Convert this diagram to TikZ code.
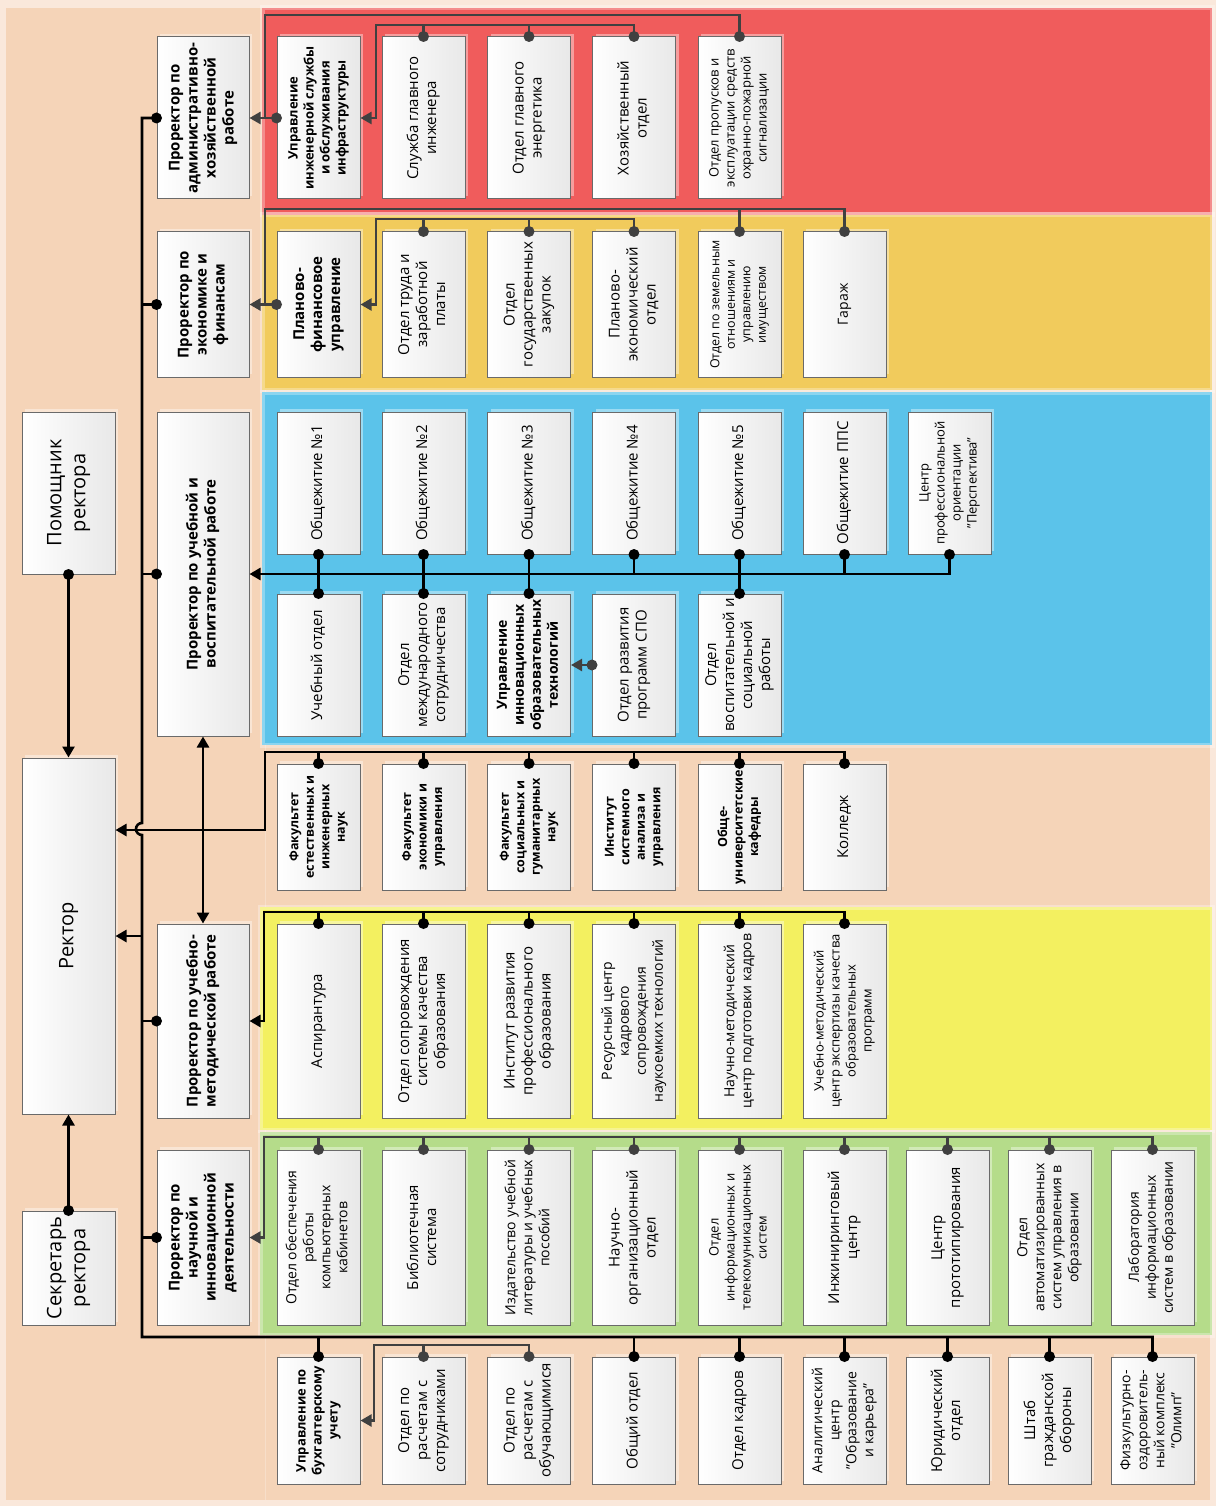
\documentclass[tikz,border=0pt]{standalone}
\usepackage{graphicx}
\usepackage{fontspec}
\setmainfont{Open Sans}
\usetikzlibrary{arrows.meta,shadows}
\definecolor{pagebg}{HTML}{FAE8DB}
\definecolor{peach}{HTML}{F5D4B8}
\definecolor{bred}{HTML}{F05C5C}
\definecolor{borange}{HTML}{F1CB5C}
\definecolor{bblue}{HTML}{5BC3EA}
\definecolor{byellow}{HTML}{F3F060}
\definecolor{bgreen}{HTML}{B5DC8A}
\definecolor{boxline}{HTML}{6A6A6A}
\definecolor{lngray}{HTML}{404040}
\newcommand\rtxt[2]{\rotatebox{90}{#1\begin{tabular}{@{}c@{}}#2\end{tabular}}}
\newcommand\tA{\fontsize{15}{18}\selectfont}
\newcommand\tB{\fontsize{14}{17}\selectfont}
\newcommand\tC{\fontsize{13}{16}\selectfont}
\newcommand\tD{\fontsize{12.5}{15.5}\selectfont}
\newcommand\tL{\fontsize{20}{24}\selectfont}
\begin{document}
\begin{tikzpicture}[x=1pt,y={(0,-1pt)},
  box/.style={draw=boxline,line width=1pt,left color=white,right color=black!9,inner sep=0pt,minimum width=83pt,
    general shadow={fill=white,fill opacity=.4,shadow xshift=3pt,shadow yshift=3pt}},
  bk/.style={draw=black,line width=2.6pt},
  gr/.style={draw=lngray,line width=2.3pt},
  arr/.style={-{Triangle[length=11pt,width=12pt]}},
  darr/.style={{Triangle[length=11pt,width=12pt]}-{Triangle[length=11pt,width=12pt]}},
  band/.style={draw=white,draw opacity=.3,line width=5pt}
]
\useasboundingbox (0,0) rectangle (1216,1506);
% backgrounds
\fill[pagebg] (0,0) rectangle (1216,1506);
\fill[peach] (6,8) rectangle (1210,1500);
\draw[white,opacity=.25,line width=1pt] (265,8) -- (265,1500);
\fill[bred,band] (262,8) rectangle (1212,215);
\fill[borange,band] (262,215) rectangle (1212,390);
\fill[bblue,band] (262,392) rectangle (1212,745);
\fill[byellow,band] (260,907) rectangle (1212,1130);
\fill[bgreen,band] (260,1132) rectangle (1212,1335);

% left column
\node[box,minimum width=92pt,minimum height=162pt] (adm) at (203,118) {\rtxt{\tA\bfseries}{Проректор по\\административно-\\хозяйственной\\работе}};
\node[box,minimum width=92pt,minimum height=145pt] (econ) at (203,304.5) {\rtxt{\tA\bfseries}{Проректор по\\экономике и\\финансам}};
\node[box,minimum width=92pt,minimum height=324pt] (uchvosp) at (203,574) {\rtxt{\tA\bfseries}{Проректор по учебной и\\воспитательной работе}};
\node[box,minimum width=92pt,minimum height=194pt] (uchmet) at (203,1021) {\rtxt{\tA\bfseries}{Проректор по учебно-\\методической работе}};
\node[box,minimum width=92pt,minimum height=175pt] (nauch) at (203,1237.5) {\rtxt{\tA\bfseries}{Проректор по\\научной и\\инновационной\\деятельности}};
\node[box,minimum width=93pt,minimum height=162pt] (pom) at (68.5,493) {\rtxt{\tL}{Помощник\\ректора}};
\node[box,minimum width=93pt,minimum height=356pt] (rector) at (68.5,936) {\rtxt{\tL}{Ректор}};
\node[box,minimum width=93pt,minimum height=114pt] (secr) at (68.5,1268) {\rtxt{\tL}{Секретарь\\ректора}};

% red row
\node[box,minimum height=162pt] (r1) at (318.5,118) {\rtxt{\tC\bfseries}{Управление\\инженерной службы\\и обслуживания\\инфраструктуры}};
\node[box,minimum height=162pt] (r2) at (423.5,118) {\rtxt{\tA}{Служба главного\\инженера}};
\node[box,minimum height=162pt] (r3) at (529,118) {\rtxt{\tA}{Отдел главного\\энергетика}};
\node[box,minimum height=162pt] (r4) at (634,118) {\rtxt{\tA}{Хозяйственный\\отдел}};
\node[box,minimum height=162pt] (r5) at (739.5,118) {\rtxt{\tC}{Отдел пропусков и\\эксплуатации средств\\охранно-пожарной\\сигнализации}};

% orange row
\node[box,minimum height=145pt] (o1) at (318.5,304.5) {\rtxt{\tA\bfseries}{Планово-\\финансовое\\управление}};
\node[box,minimum height=145pt] (o2) at (423.5,304.5) {\rtxt{\tA}{Отдел труда и\\заработной\\платы}};
\node[box,minimum height=145pt] (o3) at (529,304.5) {\rtxt{\tA}{Отдел\\государственных\\закупок}};
\node[box,minimum height=145pt] (o4) at (634,304.5) {\rtxt{\tA}{Планово-\\экономический\\отдел}};
\node[box,minimum height=145pt] (o5) at (739.5,304.5) {\rtxt{\tD}{Отдел по земельным\\отношениям и\\управлению\\имуществом}};
\node[box,minimum height=145pt] (o6) at (844.5,304.5) {\rtxt{\tB}{Гараж}};

% blue top row
\node[box,minimum height=142pt] (b1) at (318.5,483) {\rtxt{\tA}{Общежитие №1}};
\node[box,minimum height=142pt] (b2) at (423.5,483) {\rtxt{\tA}{Общежитие №2}};
\node[box,minimum height=142pt] (b3) at (529,483) {\rtxt{\tA}{Общежитие №3}};
\node[box,minimum height=142pt] (b4) at (634,483) {\rtxt{\tA}{Общежитие №4}};
\node[box,minimum height=142pt] (b5) at (739.5,483) {\rtxt{\tA}{Общежитие №5}};
\node[box,minimum height=142pt] (b6) at (844.5,483) {\rtxt{\tA}{Общежитие ППС}};
\node[box,minimum height=142pt] (b7) at (949.5,483) {\rtxt{\tC}{Центр\\профессиональной\\ориентации\\"Перспектива"}};

% blue bottom row
\node[box,minimum height=142pt] (bb1) at (318.5,665) {\rtxt{\tA}{Учебный отдел}};
\node[box,minimum height=142pt] (bb2) at (423.5,665) {\rtxt{\tA}{Отдел\\международного\\сотрудничества}};
\node[box,minimum height=142pt] (bb3) at (529,665) {\rtxt{\tB\bfseries}{Управление\\инновационных\\образовательных\\технологий}};
\node[box,minimum height=142pt] (bb4) at (634,665) {\rtxt{\tA}{Отдел развития\\программ СПО}};
\node[box,minimum height=142pt] (bb5) at (739.5,665) {\rtxt{\tA}{Отдел\\воспитательной и\\социальной\\работы}};

% faculties row
\node[box,minimum height=126pt] (f1) at (318.5,827) {\rtxt{\tD\bfseries}{Факультет\\естественных и\\инженерных\\наук}};
\node[box,minimum height=126pt] (f2) at (423.5,827) {\rtxt{\tD\bfseries}{Факультет\\экономики и\\управления}};
\node[box,minimum height=126pt] (f3) at (529,827) {\rtxt{\tD\bfseries}{Факультет\\социальных и\\гуманитарных\\наук}};
\node[box,minimum height=126pt] (f4) at (634,827) {\rtxt{\tD\bfseries}{Институт\\системного\\анализа и\\управления}};
\node[box,minimum height=126pt] (f5) at (739.5,827) {\rtxt{\tD\bfseries}{Обще-\\университетские\\кафедры}};
\node[box,minimum height=126pt] (f6) at (844.5,827) {\rtxt{\tA}{Колледж}};

% yellow row
\node[box,minimum height=194pt] (y1) at (318.5,1021) {\rtxt{\tA}{Аспирантура}};
\node[box,minimum height=194pt] (y2) at (423.5,1021) {\rtxt{\tA}{Отдел сопровождения\\системы качества\\образования}};
\node[box,minimum height=194pt] (y3) at (529,1021) {\rtxt{\tA}{Институт развития\\профессионального\\образования}};
\node[box,minimum height=194pt] (y4) at (634,1021) {\rtxt{\tB}{Ресурсный центр\\кадрового\\сопровождения\\наукоемких технологий}};
\node[box,minimum height=194pt] (y5) at (739.5,1021) {\rtxt{\tB}{Научно-методический\\центр подготовки кадров}};
\node[box,minimum height=194pt] (y6) at (844.5,1021) {\rtxt{\tC}{Учебно-методический\\центр экспертизы качества\\образовательных\\программ}};

% green row
\node[box,minimum height=175pt] (g1) at (318.5,1237.5) {\rtxt{\tB}{Отдел обеспечения\\работы\\компьютерных\\кабинетов}};
\node[box,minimum height=175pt] (g2) at (423.5,1237.5) {\rtxt{\tA}{Библиотечная\\система}};
\node[box,minimum height=175pt] (g3) at (529,1237.5) {\rtxt{\tB}{Издательство учебной\\литературы и учебных\\пособий}};
\node[box,minimum height=175pt] (g4) at (634,1237.5) {\rtxt{\tA}{Научно-\\организационный\\отдел}};
\node[box,minimum height=175pt] (g5) at (739.5,1237.5) {\rtxt{\tC}{Отдел\\информационных и\\телекомуникационных\\систем}};
\node[box,minimum height=175pt] (g6) at (844.5,1237.5) {\rtxt{\tA}{Инжиниринговый\\центр}};
\node[box,minimum height=175pt] (g7) at (947.5,1237.5) {\rtxt{\tA}{Центр\\прототипирования}};
\node[box,minimum height=175pt] (g8) at (1049.5,1237.5) {\rtxt{\tB}{Отдел\\автоматизированных\\систем управления в\\образовании}};
\node[box,minimum height=175pt] (g9) at (1152.5,1237.5) {\rtxt{\tB}{Лаборатория\\информационных\\систем в образовании}};

% bottom row
\node[box,minimum height=127pt] (k1) at (318.5,1420.5) {\rtxt{\tC\bfseries}{Управление по\\бухгалтерскому\\учету}};
\node[box,minimum height=127pt] (k2) at (423.5,1420.5) {\rtxt{\tA}{Отдел по\\расчетам с\\сотрудниками}};
\node[box,minimum height=127pt] (k3) at (529,1420.5) {\rtxt{\tA}{Отдел по\\расчетам с\\обучающимися}};
\node[box,minimum height=127pt] (k4) at (634,1420.5) {\rtxt{\tA}{Общий отдел}};
\node[box,minimum height=127pt] (k5) at (739.5,1420.5) {\rtxt{\tA}{Отдел кадров}};
\node[box,minimum height=127pt] (k6) at (844.5,1420.5) {\rtxt{\tB}{Аналитический\\центр\\"Образование\\и карьера"}};
\node[box,minimum height=127pt] (k7) at (947.5,1420.5) {\rtxt{\tA}{Юридический\\отдел}};
\node[box,minimum height=127pt] (k8) at (1049.5,1420.5) {\rtxt{\tA}{Штаб\\гражданской\\обороны}};
\node[box,minimum height=127pt] (k9) at (1152.5,1420.5) {\rtxt{\tB}{Физкультурно-\\оздоровитель-\\ный комплекс\\"Олимп"}};

% coordinates
\coordinate (busL) at (142,0);
\coordinate (ro) at (265,15);
\coordinate (ri) at (376,25);
\coordinate (oo) at (265,209);
\coordinate (oi) at (376,219);
\coordinate (fc) at (265,752);
\coordinate (fr) at (265,830);
\coordinate (yb) at (264,912);
\coordinate (gb) at (264,1137);
\coordinate (kbus) at (142,1337);
\coordinate (kb) at (374,1345);

% main left bus
\draw[bk] (adm.west) -- (busL |- adm.west) -- (142,823) arc[start angle=90,end angle=270,radius=6pt] -- (kbus) -| (k9.north);
\foreach \n in {econ,uchvosp,uchmet,nauch} {\draw[bk] (busL |- \n.west) -- (\n.west);}
\foreach \n in {adm,econ,uchvosp,uchmet,nauch} {\fill (\n.west) circle[radius=5.5pt];}
\draw[bk,arr] (busL |- rector.east) -- (rector.east);
\draw[bk,arr] (pom.south) -- (rector.north);
\fill (pom.south) circle[radius=5.5pt];
\draw[bk,arr] (secr.north) -- (rector.south);
\fill (secr.north) circle[radius=5.5pt];
\draw[bk,darr] (uchvosp.south) -- (uchmet.north);

% faculties
\draw[bk,arr] (f6.north) |- (fc) -- (fr) -- (rector.east |- fr);
\foreach \n in {f1,f2,f3,f4,f5} {\draw[bk] (\n.north) -- (\n.north |- fc);}
\foreach \n in {f1,f2,f3,f4,f5,f6} {\fill (\n.north) circle[radius=5.5pt];}

% red band
\draw[gr,arr] (r5.north) |- (ro) |- (adm.east);
\draw[gr] (r1.west) -- (ro |- r1.west);
\draw[gr,arr] (r4.north) |- (ri) |- (r1.east);
\foreach \n in {r2,r3} {\draw[gr] (\n.north) -- (\n.north |- ri);}
\foreach \n in {r2,r3,r4,r5} {\fill[lngray] (\n.north) circle[radius=5.5pt];}
\fill[lngray] (r1.west) circle[radius=5.5pt];

% orange band
\draw[gr,arr] (o6.north) |- (oo) |- (econ.east);
\draw[gr] (o5.north) -- (o5.north |- oo);
\draw[gr] (o1.west) -- (oo |- o1.west);
\draw[gr,arr] (o4.north) |- (oi) |- (o1.east);
\foreach \n in {o2,o3} {\draw[gr] (\n.north) -- (\n.north |- oi);}
\foreach \n in {o2,o3,o4,o5,o6} {\fill[lngray] (\n.north) circle[radius=5.5pt];}
\fill[lngray] (o1.west) circle[radius=5.5pt];

% blue band
\draw[bk,arr] (b7.south) |- (uchvosp.east);
\foreach \n in {1,2,3,5} {\draw[bk] (b\n.south) -- (bb\n.north); \fill (bb\n.north) circle[radius=5.5pt];}
\foreach \n in {b4,b6} {\draw[bk] (\n.south) -- (\n.south |- uchvosp.east);}
\foreach \n in {b1,b2,b3,b4,b5,b6,b7} {\fill (\n.south) circle[radius=5.5pt];}
\draw[gr,arr] (bb4.west) -- (bb3.east);
\fill[lngray] (bb4.west) circle[radius=5.5pt];

% yellow band
\draw[bk,arr] (y6.north) |- (yb) |- (uchmet.east);
\foreach \n in {y1,y2,y3,y4,y5} {\draw[bk] (\n.north) -- (\n.north |- yb);}
\foreach \n in {y1,y2,y3,y4,y5,y6} {\fill (\n.north) circle[radius=5.5pt];}

% green band
\draw[gr,arr] (g9.north) |- (gb) |- (nauch.east);
\foreach \n in {g1,g2,g3,g4,g5,g6,g7,g8} {\draw[gr] (\n.north) -- (\n.north |- gb);}
\foreach \n in {g1,g2,g3,g4,g5,g6,g7,g8,g9} {\fill[lngray] (\n.north) circle[radius=5.5pt];}

% bottom row
\foreach \n in {k1,k4,k5,k6,k7,k8} {\draw[bk] (\n.north) -- (\n.north |- kbus);}
\foreach \n in {k1,k4,k5,k6,k7,k8,k9} {\fill (\n.north) circle[radius=5.5pt];}
\draw[gr,arr] (k3.north) |- (kb) |- (k1.east);
\draw[gr] (k2.north) -- (k2.north |- kb);
\foreach \n in {k2,k3} {\fill[lngray] (\n.north) circle[radius=5.5pt];}
\end{tikzpicture}
\end{document}
